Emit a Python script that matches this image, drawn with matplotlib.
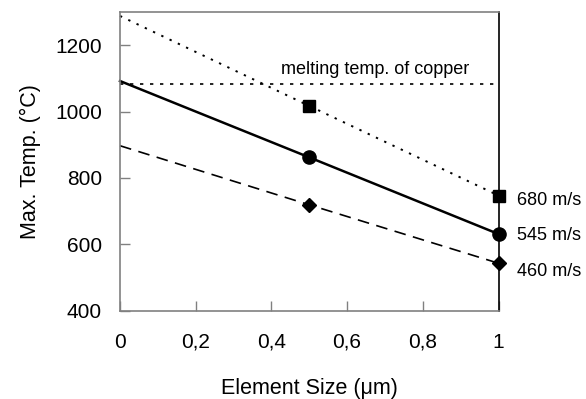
import numpy as np
import matplotlib
matplotlib.use("Agg")
import matplotlib.pyplot as plt

plt.rcParams['font.family'] = ['Liberation Sans', 'DejaVu Sans']

# data
size = [0, 0.5, 1]
t680 = [1288, 1017, 747]
t545 = [1092, 862, 631]
t460 = [897, 719, 543]
melt = 1083
xticks = [0, 0.2, 0.4, 0.6, 0.8, 1]
xticklabels = ['0', '0,2', '0,4', '0,6', '0,8', '1']
yticks = [400, 600, 800, 1000, 1200]

fig = plt.figure(figsize=(5.86, 3.99), dpi=100)
ax = fig.add_axes([0.2048, 0.2213, 0.6459, 0.7487])

ax.plot(size, t680, color='black', lw=1.4, ls=(0, (1.2, 3.5)),
        marker='s', ms=8, markevery=[1, 2], clip_on=False)
ax.plot(size, t545, color='black', lw=1.8, ls='-',
        marker='o', ms=9.5, markevery=[1, 2], clip_on=False)
ax.plot(size, t460, color='black', lw=1.2, ls=(0, (7, 4.5)),
        marker='D', ms=7.5, markevery=[1, 2], clip_on=False)
ax.plot([0, 1], [melt, melt], color='black', lw=1.2, ls=(0, (2, 4)))

ax.text(0.674, melt + 18, 'melting temp. of copper', ha='center', va='bottom', fontsize=13)

ax.text(1.05, t680[2] - 15, '680 m/s', ha='left', va='center', fontsize=13, clip_on=False)
ax.text(1.05, t545[2] - 5, '545 m/s', ha='left', va='center', fontsize=13, clip_on=False)
ax.text(1.05, t460[2] - 25, '460 m/s', ha='left', va='center', fontsize=13, clip_on=False)

ax.set_xlim(0, 1)
ax.set_ylim(400, 1300)
ax.set_xticks(xticks)
ax.set_xticklabels(xticklabels)
ax.set_yticks(yticks)
ax.tick_params(direction='in', length=7, width=1, color='#808080', labelsize=15)
ax.tick_params(axis='x', pad=16)
ax.tick_params(axis='y', pad=13)

for s in ['left', 'bottom', 'top']:
    ax.spines[s].set_color('#808080')
    ax.spines[s].set_linewidth(1.2)
ax.spines['right'].set_color('black')
ax.spines['right'].set_linewidth(1.2)

ax.set_xlabel('Element Size (\u03bcm)', fontsize=15.5, labelpad=19)
ax.set_ylabel('Max. Temp. (\u00b0C)', fontsize=15.5, labelpad=10)

fig.savefig('out.png', dpi=100)
